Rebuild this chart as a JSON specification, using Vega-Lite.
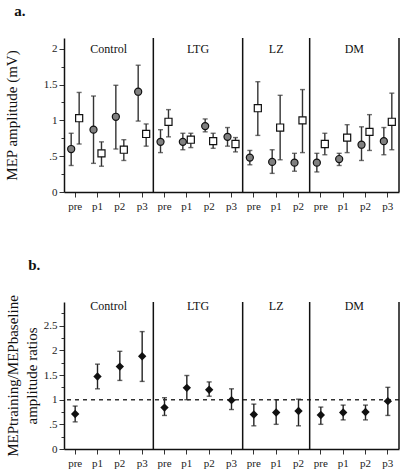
{
 "$schema": "https://vega.github.io/schema/vega-lite/v6.json",
 "padding": {"left": 4, "top": 4, "right": 6, "bottom": 2},
 "spacing": 46,
 "config": {
  "font": "Liberation Serif",
  "view": {"stroke": null},
  "text": {"font": "Liberation Serif"},
  "axis": {"domainColor": "#111", "domainWidth": 1.5, "tickColor": "#333", "labelColor": "#222", "labelFont": "Liberation Serif", "labelFontSize": 11, "titleFont": "Liberation Serif", "titleFontWeight": "normal", "titleColor": "#111", "grid": false},
  "title": {"font": "Liberation Serif", "fontSize": 15, "fontWeight": "bold", "color": "#111"}
 },
 "datasets": {
  "a": [
   {"slot": "Control pre", "series": "filled", "mean": 0.60, "lo": 0.37, "hi": 0.82},
   {"slot": "Control pre", "series": "open", "mean": 1.03, "lo": 0.67, "hi": 1.39},
   {"slot": "Control p1", "series": "filled", "mean": 0.87, "lo": 0.40, "hi": 1.34},
   {"slot": "Control p1", "series": "open", "mean": 0.54, "lo": 0.36, "hi": 0.70},
   {"slot": "Control p2", "series": "filled", "mean": 1.05, "lo": 0.60, "hi": 1.49},
   {"slot": "Control p2", "series": "open", "mean": 0.59, "lo": 0.44, "hi": 0.73},
   {"slot": "Control p3", "series": "filled", "mean": 1.40, "lo": 0.99, "hi": 1.77},
   {"slot": "Control p3", "series": "open", "mean": 0.81, "lo": 0.64, "hi": 0.95},
   {"slot": "LTG pre", "series": "filled", "mean": 0.70, "lo": 0.55, "hi": 0.87},
   {"slot": "LTG pre", "series": "open", "mean": 0.98, "lo": 0.77, "hi": 1.15},
   {"slot": "LTG p1", "series": "filled", "mean": 0.70, "lo": 0.59, "hi": 0.82},
   {"slot": "LTG p1", "series": "open", "mean": 0.73, "lo": 0.62, "hi": 0.82},
   {"slot": "LTG p2", "series": "filled", "mean": 0.92, "lo": 0.84, "hi": 1.02},
   {"slot": "LTG p2", "series": "open", "mean": 0.71, "lo": 0.61, "hi": 0.82},
   {"slot": "LTG p3", "series": "filled", "mean": 0.77, "lo": 0.64, "hi": 0.90},
   {"slot": "LTG p3", "series": "open", "mean": 0.67, "lo": 0.56, "hi": 0.76},
   {"slot": "LZ pre", "series": "filled", "mean": 0.48, "lo": 0.38, "hi": 0.58},
   {"slot": "LZ pre", "series": "open", "mean": 1.17, "lo": 0.79, "hi": 1.54},
   {"slot": "LZ p1", "series": "filled", "mean": 0.42, "lo": 0.26, "hi": 0.59},
   {"slot": "LZ p1", "series": "open", "mean": 0.90, "lo": 0.45, "hi": 1.35},
   {"slot": "LZ p2", "series": "filled", "mean": 0.41, "lo": 0.29, "hi": 0.54},
   {"slot": "LZ p2", "series": "open", "mean": 1.00, "lo": 0.55, "hi": 1.43},
   {"slot": "DM pre", "series": "filled", "mean": 0.41, "lo": 0.28, "hi": 0.54},
   {"slot": "DM pre", "series": "open", "mean": 0.67, "lo": 0.52, "hi": 0.82},
   {"slot": "DM p1", "series": "filled", "mean": 0.46, "lo": 0.37, "hi": 0.54},
   {"slot": "DM p1", "series": "open", "mean": 0.76, "lo": 0.55, "hi": 0.94},
   {"slot": "DM p2", "series": "filled", "mean": 0.66, "lo": 0.44, "hi": 0.91},
   {"slot": "DM p2", "series": "open", "mean": 0.84, "lo": 0.58, "hi": 1.08},
   {"slot": "DM p3", "series": "filled", "mean": 0.71, "lo": 0.52, "hi": 0.90},
   {"slot": "DM p3", "series": "open", "mean": 0.98, "lo": 0.59, "hi": 1.38}
  ],
  "b": [
   {"slot": "Control pre", "mean": 0.71, "lo": 0.55, "hi": 0.87},
   {"slot": "Control p1", "mean": 1.47, "lo": 1.22, "hi": 1.72},
   {"slot": "Control p2", "mean": 1.67, "lo": 1.39, "hi": 1.98},
   {"slot": "Control p3", "mean": 1.88, "lo": 1.37, "hi": 2.38},
   {"slot": "LTG pre", "mean": 0.84, "lo": 0.68, "hi": 1.04},
   {"slot": "LTG p1", "mean": 1.24, "lo": 1.00, "hi": 1.49},
   {"slot": "LTG p2", "mean": 1.20, "lo": 1.07, "hi": 1.36},
   {"slot": "LTG p3", "mean": 0.99, "lo": 0.80, "hi": 1.22},
   {"slot": "LZ pre", "mean": 0.70, "lo": 0.47, "hi": 0.91},
   {"slot": "LZ p1", "mean": 0.74, "lo": 0.50, "hi": 1.00},
   {"slot": "LZ p2", "mean": 0.77, "lo": 0.47, "hi": 1.01},
   {"slot": "DM pre", "mean": 0.69, "lo": 0.50, "hi": 0.85},
   {"slot": "DM p1", "mean": 0.74, "lo": 0.59, "hi": 0.89},
   {"slot": "DM p2", "mean": 0.75, "lo": 0.59, "hi": 0.89},
   {"slot": "DM p3", "mean": 0.97, "lo": 0.68, "hi": 1.25}
  ],
  "dividers": [{"slot": "LTG pre"}, {"slot": "LZ pre"}, {"slot": "DM pre"}]
 },
 "vconcat": [
  {
   "width": 335,
   "height": 154,
   "title": {"text": "a.", "anchor": "start", "frame": "bounds", "offset": 18, "dx": 10},
   "resolve": {"axis": {"x": "independent", "y": "independent"}},
   "layer": [
    {
     "data": {"name": "a"},
     "mark": {"type": "rule", "color": "#333", "strokeWidth": 1.4},
     "encoding": {
      "x": {"field": "slot", "type": "nominal",
       "scale": {"domain": ["Control pre", "Control p1", "Control p2", "Control p3", "LTG pre", "LTG p1", "LTG p2", "LTG p3", "LZ pre", "LZ p1", "LZ p2", "DM pre", "DM p1", "DM p2", "DM p3"], "paddingInner": 0, "paddingOuter": 0},
       "axis": {"title": null, "labelExpr": "split(datum.value, ' ')[1]", "labelAngle": 0, "tickSize": 5, "labelPadding": 3, "tickWidth": 1}},
      "xOffset": {"field": "series", "type": "nominal", "scale": {"domain": ["filled", "open"], "paddingOuter": 0.4, "paddingInner": 0}},
      "y": {"field": "lo", "type": "quantitative", "scale": {"domain": [0, 2.15], "nice": false},
       "axis": {"title": "MEP amplitude (mV)", "titleFontSize": 15, "titlePadding": 24, "labelOverlap": false, "values": [0, 0.25, 0.5, 0.75, 1, 1.25, 1.5, 1.75, 2], "labelExpr": "datum.value == 0 ? '0' : datum.value == 0.5 ? '.5' : datum.value == 1 ? '1' : datum.value == 1.5 ? '1.5' : datum.value == 2 ? '2' : ''", "tickSize": {"condition": {"test": "datum.value % 0.5 == 0", "value": 5}, "value": 3}}},
      "y2": {"field": "hi"}
     }
    },
    {
     "data": {"name": "a"},
     "mark": {"type": "tick", "color": "#333", "thickness": 1.4, "size": 5, "orient": "horizontal"},
     "encoding": {
      "x": {"field": "slot", "type": "nominal", "axis": null},
      "xOffset": {"field": "series", "type": "nominal"},
      "y": {"field": "lo", "type": "quantitative", "axis": null}
     }
    },
    {
     "data": {"name": "a"},
     "mark": {"type": "tick", "color": "#333", "thickness": 1.4, "size": 5, "orient": "horizontal"},
     "encoding": {
      "x": {"field": "slot", "type": "nominal", "axis": null},
      "xOffset": {"field": "series", "type": "nominal"},
      "y": {"field": "hi", "type": "quantitative", "axis": null}
     }
    },
    {
     "data": {"name": "a"},
     "mark": {"type": "point", "filled": false, "opacity": 1, "stroke": "#111", "strokeWidth": 1.2, "size": 50},
     "encoding": {
      "x": {"field": "slot", "type": "nominal", "axis": null},
      "xOffset": {"field": "series", "type": "nominal"},
      "y": {"field": "mean", "type": "quantitative", "axis": null},
      "shape": {"field": "series", "type": "nominal", "scale": {"domain": ["filled", "open"], "range": ["circle", "square"]}, "legend": null},
      "fill": {"field": "series", "type": "nominal", "scale": {"domain": ["filled", "open"], "range": ["#808080", "#ffffff"]}, "legend": null}
     }
    },
    {
     "data": {"name": "dividers"},
     "mark": {"type": "rule", "color": "#111", "strokeWidth": 1.5},
     "encoding": {"x": {"field": "slot", "type": "nominal", "bandPosition": 0, "axis": null}}
    },
    {
     "data": {"values": [{}]},
     "mark": {"type": "rule", "color": "#111", "strokeWidth": 1.5},
     "encoding": {"x": {"datum": "DM p3", "type": "nominal", "bandPosition": 1, "axis": null}}
    },
    {
     "data": {"values": [{}]},
     "mark": {"type": "text", "fontSize": 12, "color": "#111", "baseline": "middle", "font": "Liberation Serif"},
     "encoding": {"x": {"datum": "Control p2", "type": "nominal", "bandPosition": 0, "axis": null}, "y": {"datum": 2.0, "type": "quantitative", "axis": null}, "text": {"value": "Control"}}
    },
    {
     "data": {"values": [{}]},
     "mark": {"type": "text", "fontSize": 12, "color": "#111", "baseline": "middle", "font": "Liberation Serif"},
     "encoding": {"x": {"datum": "LTG p2", "type": "nominal", "bandPosition": 0, "axis": null}, "y": {"datum": 2.0, "type": "quantitative", "axis": null}, "text": {"value": "LTG"}}
    },
    {
     "data": {"values": [{}]},
     "mark": {"type": "text", "fontSize": 12, "color": "#111", "baseline": "middle", "font": "Liberation Serif"},
     "encoding": {"x": {"datum": "LZ p1", "type": "nominal", "bandPosition": 0.5, "axis": null}, "y": {"datum": 2.0, "type": "quantitative", "axis": null}, "text": {"value": "LZ"}}
    },
    {
     "data": {"values": [{}]},
     "mark": {"type": "text", "fontSize": 12, "color": "#111", "baseline": "middle", "font": "Liberation Serif"},
     "encoding": {"x": {"datum": "DM p2", "type": "nominal", "bandPosition": 0, "axis": null}, "y": {"datum": 2.0, "type": "quantitative", "axis": null}, "text": {"value": "DM"}}
    }
   ]
  },
  {
   "width": 335,
   "height": 147,
   "title": {"text": "b.", "anchor": "start", "frame": "bounds", "offset": 22, "dx": 23},
   "resolve": {"axis": {"x": "independent", "y": "independent"}},
   "layer": [
    {
     "data": {"name": "b"},
     "mark": {"type": "rule", "color": "#222", "strokeWidth": 1.4},
     "encoding": {
      "x": {"field": "slot", "type": "nominal",
       "scale": {"domain": ["Control pre", "Control p1", "Control p2", "Control p3", "LTG pre", "LTG p1", "LTG p2", "LTG p3", "LZ pre", "LZ p1", "LZ p2", "DM pre", "DM p1", "DM p2", "DM p3"], "paddingInner": 0, "paddingOuter": 0},
       "axis": {"title": null, "labelExpr": "split(datum.value, ' ')[1]", "labelAngle": 0, "tickSize": 5, "labelPadding": 3, "tickWidth": 1}},
      "y": {"field": "lo", "type": "quantitative", "scale": {"domain": [0, 2.98], "nice": false},
       "axis": {"title": ["MEPtraining/MEPbaseline", "amplitude ratios"], "titleFontSize": 15, "titlePadding": 4, "titleLineHeight": 19, "labelOverlap": false, "values": [0, 0.25, 0.5, 0.75, 1, 1.25, 1.5, 1.75, 2, 2.25, 2.5, 2.75], "labelExpr": "datum.value == 0 ? '0' : datum.value == 0.5 ? '.5' : datum.value == 1 ? '1' : datum.value == 1.5 ? '1.5' : datum.value == 2 ? '2' : datum.value == 2.5 ? '2.5' : ''", "tickSize": {"condition": {"test": "datum.value % 0.5 == 0", "value": 5}, "value": 3}}},
      "y2": {"field": "hi"}
     }
    },
    {
     "data": {"values": [{}]},
     "mark": {"type": "rule", "color": "#333", "strokeWidth": 1.5, "strokeDash": [4, 4]},
     "encoding": {"y": {"datum": 1, "type": "quantitative", "axis": null}}
    },
    {
     "data": {"name": "b"},
     "mark": {"type": "tick", "color": "#222", "thickness": 1.4, "size": 5, "orient": "horizontal"},
     "encoding": {"x": {"field": "slot", "type": "nominal", "axis": null}, "y": {"field": "lo", "type": "quantitative", "axis": null}}
    },
    {
     "data": {"name": "b"},
     "mark": {"type": "tick", "color": "#222", "thickness": 1.4, "size": 5, "orient": "horizontal"},
     "encoding": {"x": {"field": "slot", "type": "nominal", "axis": null}, "y": {"field": "hi", "type": "quantitative", "axis": null}}
    },
    {
     "data": {"name": "b"},
     "mark": {"type": "point", "shape": "diamond", "filled": true, "opacity": 1, "color": "#111", "size": 70},
     "encoding": {"x": {"field": "slot", "type": "nominal", "axis": null}, "y": {"field": "mean", "type": "quantitative", "axis": null}}
    },
    {
     "data": {"name": "dividers"},
     "mark": {"type": "rule", "color": "#111", "strokeWidth": 1.5},
     "encoding": {"x": {"field": "slot", "type": "nominal", "bandPosition": 0, "axis": null}}
    },
    {
     "data": {"values": [{}]},
     "mark": {"type": "rule", "color": "#111", "strokeWidth": 1.5},
     "encoding": {"x": {"datum": "DM p3", "type": "nominal", "bandPosition": 1, "axis": null}}
    },
    {
     "data": {"values": [{}]},
     "mark": {"type": "text", "fontSize": 12, "color": "#111", "baseline": "middle", "font": "Liberation Serif"},
     "encoding": {"x": {"datum": "Control p2", "type": "nominal", "bandPosition": 0, "axis": null}, "y": {"datum": 2.9, "type": "quantitative", "axis": null}, "text": {"value": "Control"}}
    },
    {
     "data": {"values": [{}]},
     "mark": {"type": "text", "fontSize": 12, "color": "#111", "baseline": "middle", "font": "Liberation Serif"},
     "encoding": {"x": {"datum": "LTG p2", "type": "nominal", "bandPosition": 0, "axis": null}, "y": {"datum": 2.9, "type": "quantitative", "axis": null}, "text": {"value": "LTG"}}
    },
    {
     "data": {"values": [{}]},
     "mark": {"type": "text", "fontSize": 12, "color": "#111", "baseline": "middle", "font": "Liberation Serif"},
     "encoding": {"x": {"datum": "LZ p1", "type": "nominal", "bandPosition": 0.5, "axis": null}, "y": {"datum": 2.9, "type": "quantitative", "axis": null}, "text": {"value": "LZ"}}
    },
    {
     "data": {"values": [{}]},
     "mark": {"type": "text", "fontSize": 12, "color": "#111", "baseline": "middle", "font": "Liberation Serif"},
     "encoding": {"x": {"datum": "DM p2", "type": "nominal", "bandPosition": 0, "axis": null}, "y": {"datum": 2.9, "type": "quantitative", "axis": null}, "text": {"value": "DM"}}
    }
   ]
  }
 ]
}
